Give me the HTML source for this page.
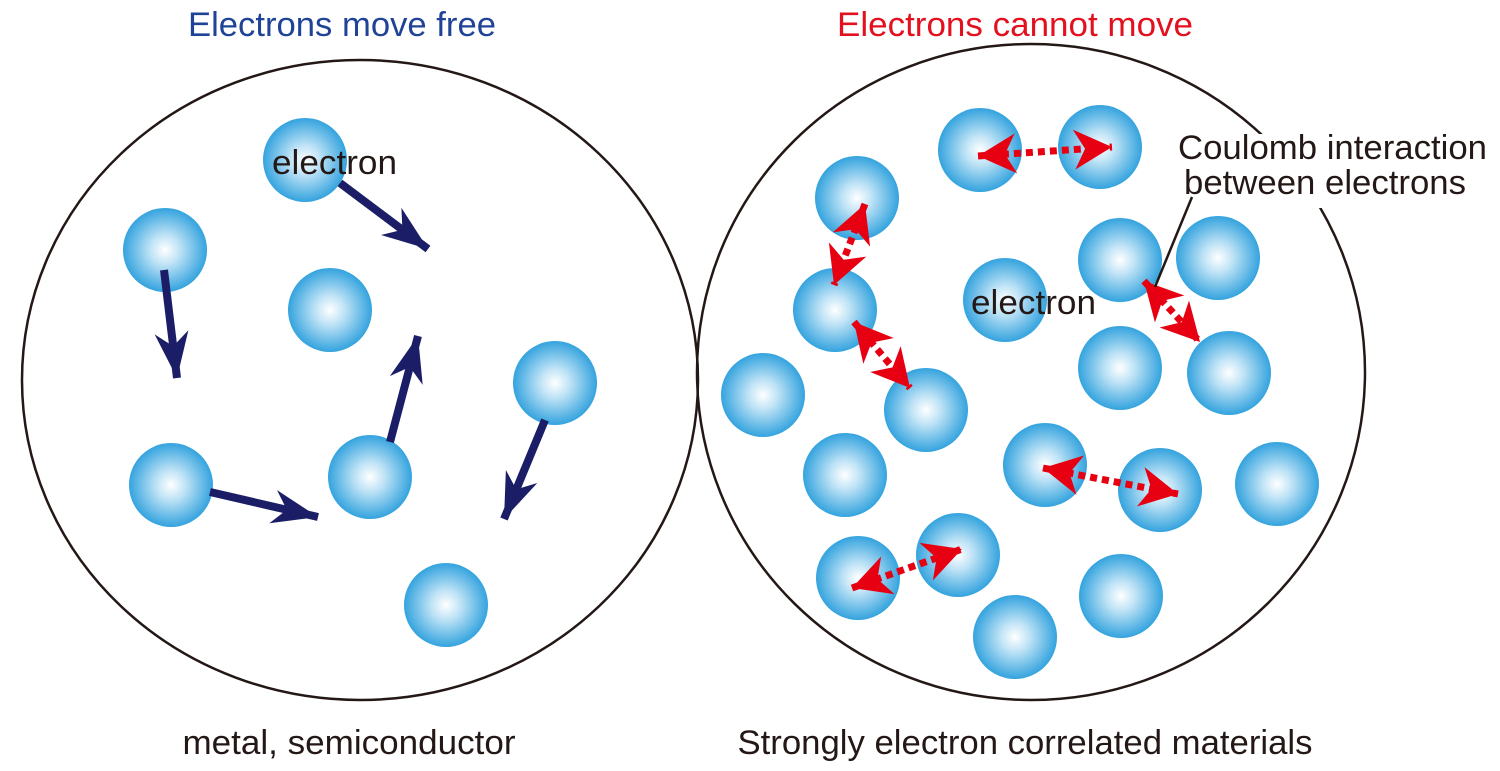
<!DOCTYPE html>
<html><head><style>
html,body{margin:0;padding:0;background:#fff}
svg{display:block}
text{font-family:"Liberation Sans",Arial,sans-serif}
</style></head><body>
<svg width="1500" height="771" viewBox="0 0 1500 771" xmlns="http://www.w3.org/2000/svg">
<defs>
<radialGradient id="g" cx="0.5" cy="0.5" r="0.5">
<stop offset="0" stop-color="#ffffff"/>
<stop offset="0.35" stop-color="#bfe3f6"/>
<stop offset="1" stop-color="#34a3de"/>
</radialGradient>
<marker id="rh" markerUnits="userSpaceOnUse" markerWidth="46" markerHeight="46" viewBox="-40 -23 46 46" refX="0" refY="0" orient="auto-start-reverse">
<path d="M0,0 L-38,-20 L-27,0 L-38,20 Z" fill="#e60012"/>
</marker>
<marker id="bh" markerUnits="userSpaceOnUse" markerWidth="52" markerHeight="44" viewBox="-48 -22 52 44" refX="0" refY="0" orient="auto">
<path d="M0,0 L-46,-17 L-32,0 L-46,17 Z" fill="#1b1e66"/>
</marker>
</defs>

<text x="342" y="36" font-size="34" fill="#1f4396" text-anchor="middle" textLength="308" lengthAdjust="spacingAndGlyphs">Electrons move free</text>
<text x="1015" y="36" font-size="34" fill="#e3101f" text-anchor="middle" textLength="356" lengthAdjust="spacingAndGlyphs">Electrons cannot move</text>

<ellipse cx="360" cy="380" rx="338" ry="320" fill="none" stroke="#231815" stroke-width="2.5"/>
<ellipse cx="1031" cy="372" rx="334" ry="328" fill="none" stroke="#231815" stroke-width="2.5"/>
<rect x="1238" y="134" width="100" height="74" fill="#fff"/>

<g fill="url(#g)">
<circle cx="305" cy="160" r="42"/>
<circle cx="165" cy="250" r="42"/>
<circle cx="330" cy="310" r="42"/>
<circle cx="555" cy="383" r="42"/>
<circle cx="171" cy="485" r="42"/>
<circle cx="370" cy="477" r="42"/>
<circle cx="446" cy="605" r="42"/>

<circle cx="980" cy="150" r="42"/>
<circle cx="1100" cy="147" r="42"/>
<circle cx="857" cy="198" r="42"/>
<circle cx="835" cy="310" r="42"/>
<circle cx="1005" cy="300" r="42"/>
<circle cx="1120" cy="260" r="42"/>
<circle cx="1218" cy="258" r="42"/>
<circle cx="1120" cy="368" r="42"/>
<circle cx="1229" cy="373" r="42"/>
<circle cx="763" cy="395" r="42"/>
<circle cx="926" cy="410" r="42"/>
<circle cx="845" cy="475" r="42"/>
<circle cx="1045" cy="465" r="42"/>
<circle cx="1160" cy="490" r="42"/>
<circle cx="1277" cy="484" r="42"/>
<circle cx="858" cy="578" r="42"/>
<circle cx="958" cy="555" r="42"/>
<circle cx="1121" cy="596" r="42"/>
<circle cx="1015" cy="637" r="42"/>
</g>

<g stroke="#1b1e66" stroke-width="8" marker-end="url(#bh)">
<line x1="340" y1="183" x2="428" y2="249"/>
<line x1="164" y1="270" x2="177" y2="378"/>
<line x1="210" y1="492" x2="318" y2="517"/>
<line x1="390" y1="442" x2="418" y2="336"/>
<line x1="545" y1="420" x2="504" y2="519"/>
</g>

<g stroke="#e60012" stroke-width="7" stroke-dasharray="7 5" marker-start="url(#rh)" marker-end="url(#rh)">
<line x1="978" y1="156" x2="1112" y2="147"/>
<line x1="865" y1="204" x2="834" y2="285"/>
<line x1="854" y1="322" x2="910" y2="388"/>
<line x1="1144" y1="281" x2="1200" y2="342"/>
<line x1="1043" y1="468" x2="1178" y2="494"/>
<line x1="852" y1="588" x2="962" y2="549"/>
</g>

<line x1="1192" y1="197" x2="1155" y2="287" stroke="#231815" stroke-width="2.5"/>

<text x="272" y="174" font-size="34" fill="#231815" textLength="125" lengthAdjust="spacingAndGlyphs">electron</text>
<text x="971" y="314" font-size="34" fill="#231815" textLength="125" lengthAdjust="spacingAndGlyphs">electron</text>
<text x="1178" y="159" font-size="34" fill="#231815" textLength="309" lengthAdjust="spacingAndGlyphs">Coulomb interaction</text>
<text x="1184" y="194" font-size="34" fill="#231815" textLength="282" lengthAdjust="spacingAndGlyphs">between electrons</text>

<text x="349" y="754" font-size="34" fill="#231815" text-anchor="middle" textLength="333" lengthAdjust="spacingAndGlyphs">metal, semiconductor</text>
<text x="1025" y="754" font-size="34" fill="#231815" text-anchor="middle" textLength="575" lengthAdjust="spacingAndGlyphs">Strongly electron correlated materials</text>
</svg>
</body></html>
